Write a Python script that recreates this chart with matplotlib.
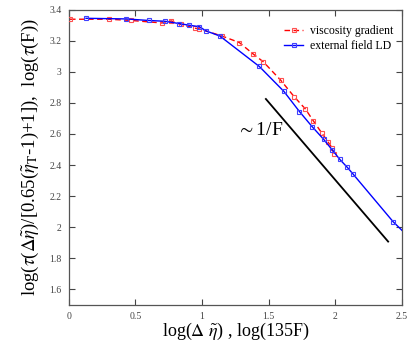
import matplotlib
matplotlib.use("Agg")
import matplotlib.pyplot as plt

plt.rcParams['font.family'] = ['Liberation Serif', 'DejaVu Serif']
plt.rcParams['mathtext.fontset'] = 'stix'

# viscosity gradient (red, dashed)
red_x = [0.01, 0.30, 0.47, 0.70, 0.77, 0.84, 0.95, 0.98, 1.15, 1.28, 1.38, 1.46,
         1.59, 1.69, 1.775, 1.836, 1.90, 1.944, 1.976, 1.99]
red_y = [3.338, 3.338, 3.33, 3.314, 3.327, 3.305, 3.28, 3.276, 3.23, 3.188, 3.117, 3.064,
         2.946, 2.841, 2.761, 2.683, 2.604, 2.55, 2.51, 2.474]

# external field LD (blue, solid)
blue_x = [0.13, 0.43, 0.60, 0.72, 0.83, 0.90, 0.98, 1.03, 1.134, 1.43, 1.614, 1.731,
          1.828, 1.912, 1.978, 2.034, 2.09, 2.132, 2.433, 2.5]
blue_y = [3.344, 3.34, 3.33, 3.325, 3.31, 3.30, 3.29, 3.263, 3.23, 3.034, 2.874, 2.744,
          2.645, 2.566, 2.496, 2.436, 2.385, 2.343, 2.036, 1.98]
blue_marker_n = 19  # last point is the line end at the frame

# ~1/F guide line
guide_x = [1.479, 2.396]
guide_y = [2.825, 1.908]

x_ticks = [0, 0.5, 1, 1.5, 2, 2.5]
x_ticklabels = ["0", "0.5", "1", "1.5", "2", "2.5"]
y_ticks = [1.6, 1.8, 2.0, 2.2, 2.4, 2.6, 2.8, 3.0, 3.2, 3.4]
y_ticklabels = ["1.6", "1.8", "2", "2.2", "2.4", "2.6", "2.8", "3", "3.2", "3.4"]

fig = plt.figure(figsize=(4.15, 3.54), dpi=100)
ax = fig.add_axes([0.1655, 0.1384, 0.8032, 0.8345])

ax.plot(red_x, red_y, color='red', linestyle=(0, (4, 2.5)), linewidth=1.0,
        marker='s', markersize=3.5, markerfacecolor='none', markeredgecolor='#ff5050',
        markeredgewidth=0.8, label='viscosity gradient', zorder=3)
ax.plot(blue_x, blue_y, color='blue', linestyle='-', linewidth=1.0,
        marker='s', markersize=3.5, markerfacecolor='none', markeredgecolor='#4040ff',
        markeredgewidth=0.8, markevery=list(range(blue_marker_n)),
        label='external field LD', zorder=4)
ax.plot(guide_x, guide_y, color='black', linewidth=1.3, zorder=2)

ax.text(1.26, 2.625, r'$\sim$1/F', fontsize=14, ha='left', va='center')

ax.set_xlim(0, 2.5)
ax.set_ylim(1.5, 3.4)
ax.set_xticks(x_ticks)
ax.set_xticklabels(x_ticklabels)
ax.set_yticks(y_ticks)
ax.set_yticklabels(y_ticklabels)
ax.tick_params(direction='in', top=True, right=True, length=4, width=0.8,
               labelsize=7, colors='#444444', pad=5)
for s in ax.spines.values():
    s.set_color('#555555')
    s.set_linewidth(0.9)

ax.set_xlabel(r'log($\Delta\ \tilde{\eta}$) , log(135F)', fontsize=13, labelpad=0)
ax.set_ylabel(r'log($\tau$($\Delta\tilde{\eta}$)/[0.65($\tilde{\eta}_{\mathrm{T}}$-1)+1]),  log($\tau$(F))',
              fontsize=13.5, labelpad=6)

leg = ax.legend(loc='upper right', bbox_to_anchor=(1.0, 0.975), frameon=False,
                fontsize=8.5, handlelength=1.6, handletextpad=0.6, labelspacing=0.25,
                borderaxespad=0.3)

fig.savefig('out.png', dpi=100)
